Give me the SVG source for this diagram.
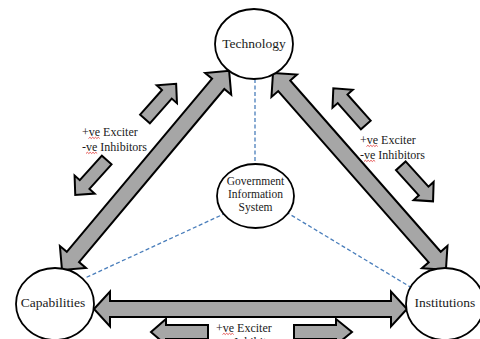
<svg xmlns="http://www.w3.org/2000/svg" width="480" height="339" viewBox="0 0 480 339">
<style>
  .node{fill:#fff;stroke:#000;stroke-width:1.8}
  .big{fill:#a6a6a6;stroke:#000;stroke-width:2;stroke-linejoin:miter}
  .small{fill:#a6a6a6;stroke:#000;stroke-width:2;stroke-linejoin:miter}
  .dash{stroke:#4a7ebb;stroke-width:1.3;stroke-dasharray:4 2.5;fill:none}
  .lbl{font-family:"Liberation Serif","Times New Roman",serif;font-size:13.5px;fill:#1a1a1a;text-anchor:middle}
  .gis{font-family:"Liberation Serif","Times New Roman",serif;font-size:11.5px;fill:#1a1a1a;text-anchor:middle}
  .ei{font-family:"Liberation Serif","Times New Roman",serif;font-size:12px;fill:#1a1a1a}
  .sq{fill:none;stroke:#e03030;stroke-width:0.8}
</style>
<defs>
  <path id="squig" class="sq" d="M0,0 l1.4,-1.2 l1.4,1.2 l1.4,-1.2 l1.4,1.2 l1.4,-1.2 l1.4,1.2 l1.4,-1.2 l1.4,1.2"/>
</defs>

<g id="connectors">
  <line class="dash" x1="255" y1="79" x2="255" y2="164"/>
  <line class="dash" x1="226" y1="213" x2="85" y2="278"/>
  <line class="dash" x1="286" y1="212" x2="412" y2="288"/>

  <!-- big double arrows -->
  <polygon class="big" transform="translate(62,270) rotate(-50)" points="0,0 17,-17 17,-8 243,-8 243,-17 260,0 243,17 243,8 17,8 17,17"/>
  <polygon class="big" transform="translate(273,73) rotate(48.7)" points="0,0 17,-17 17,-8 245,-8 245,-17 262,0 245,17 245,8 17,8 17,17"/>
  <polygon class="big" transform="translate(94,309)" points="0,0 16,-17.5 16,-8 297,-8 297,-17.5 313,0 297,17.5 297,8 16,8 16,17.5"/>

  <!-- small exciter/inhibitor arrows -->
  <polygon class="small" transform="translate(145,119) rotate(-48.5)" points="0,-6.5 33,-6.5 33,-13.5 47,0 33,13.5 33,6.5 0,6.5"/>
  <polygon class="small" transform="translate(106.7,160) rotate(132)" points="0,-6.5 33,-6.5 33,-13.5 47,0 33,13.5 33,6.5 0,6.5"/>
  <polygon class="small" transform="translate(365.8,125) rotate(-131.5)" points="0,-6.5 35,-6.5 35,-13.5 49,0 35,13.5 35,6.5 0,6.5"/>
  <polygon class="small" transform="translate(400.8,165.8) rotate(47.8)" points="0,-6.5 34,-6.5 34,-13.5 48,0 34,13.5 34,6.5 0,6.5"/>
  <polygon class="small" transform="translate(208,332) rotate(180)" points="0,-7 42,-7 42,-13 57,0 42,13 42,7 0,7"/>
  <polygon class="small" transform="translate(294,332)" points="0,-7 42,-7 42,-13 58,0 42,13 42,7 0,7"/>
</g>

<g id="technology">
  <ellipse class="node" cx="254" cy="44" rx="39" ry="35"/>
  <text class="lbl" x="254" y="48">Technology</text>
</g>
<g id="gis">
  <ellipse class="node" cx="255.5" cy="196" rx="38.5" ry="32"/>
  <text class="gis" x="255.5" y="185">Government</text>
  <text class="gis" x="255.5" y="198">Information</text>
  <text class="gis" x="255.5" y="211">System</text>
</g>
<g id="capabilities">
  <ellipse class="node" cx="55" cy="304" rx="39" ry="36"/>
  <text class="lbl" x="53" y="307">Capabilities</text>
</g>
<g id="institutions">
  <ellipse class="node" cx="445" cy="304" rx="39" ry="36"/>
  <text class="lbl" x="445" y="307">Institutions</text>
</g>

<g id="label-left">
  <text class="ei" x="82" y="136">+ve Exciter</text>
  <text class="ei" x="82" y="151">-ve Inhibitors</text>
  <use href="#squig" x="88.5" y="138.5"/>
  <use href="#squig" x="86" y="153.5"/>
</g>
<g id="label-right">
  <text class="ei" x="360" y="144">+ve Exciter</text>
  <text class="ei" x="360" y="159">-ve Inhibitors</text>
  <use href="#squig" x="366.5" y="146.5"/>
  <use href="#squig" x="364" y="161.5"/>
</g>
<g id="label-bottom">
  <text class="ei" x="216" y="332">+ve Exciter</text>
  <text class="ei" x="216" y="346">-ve Inhibitors</text>
  <use href="#squig" x="222.5" y="334.5"/>
</g>
</svg>
